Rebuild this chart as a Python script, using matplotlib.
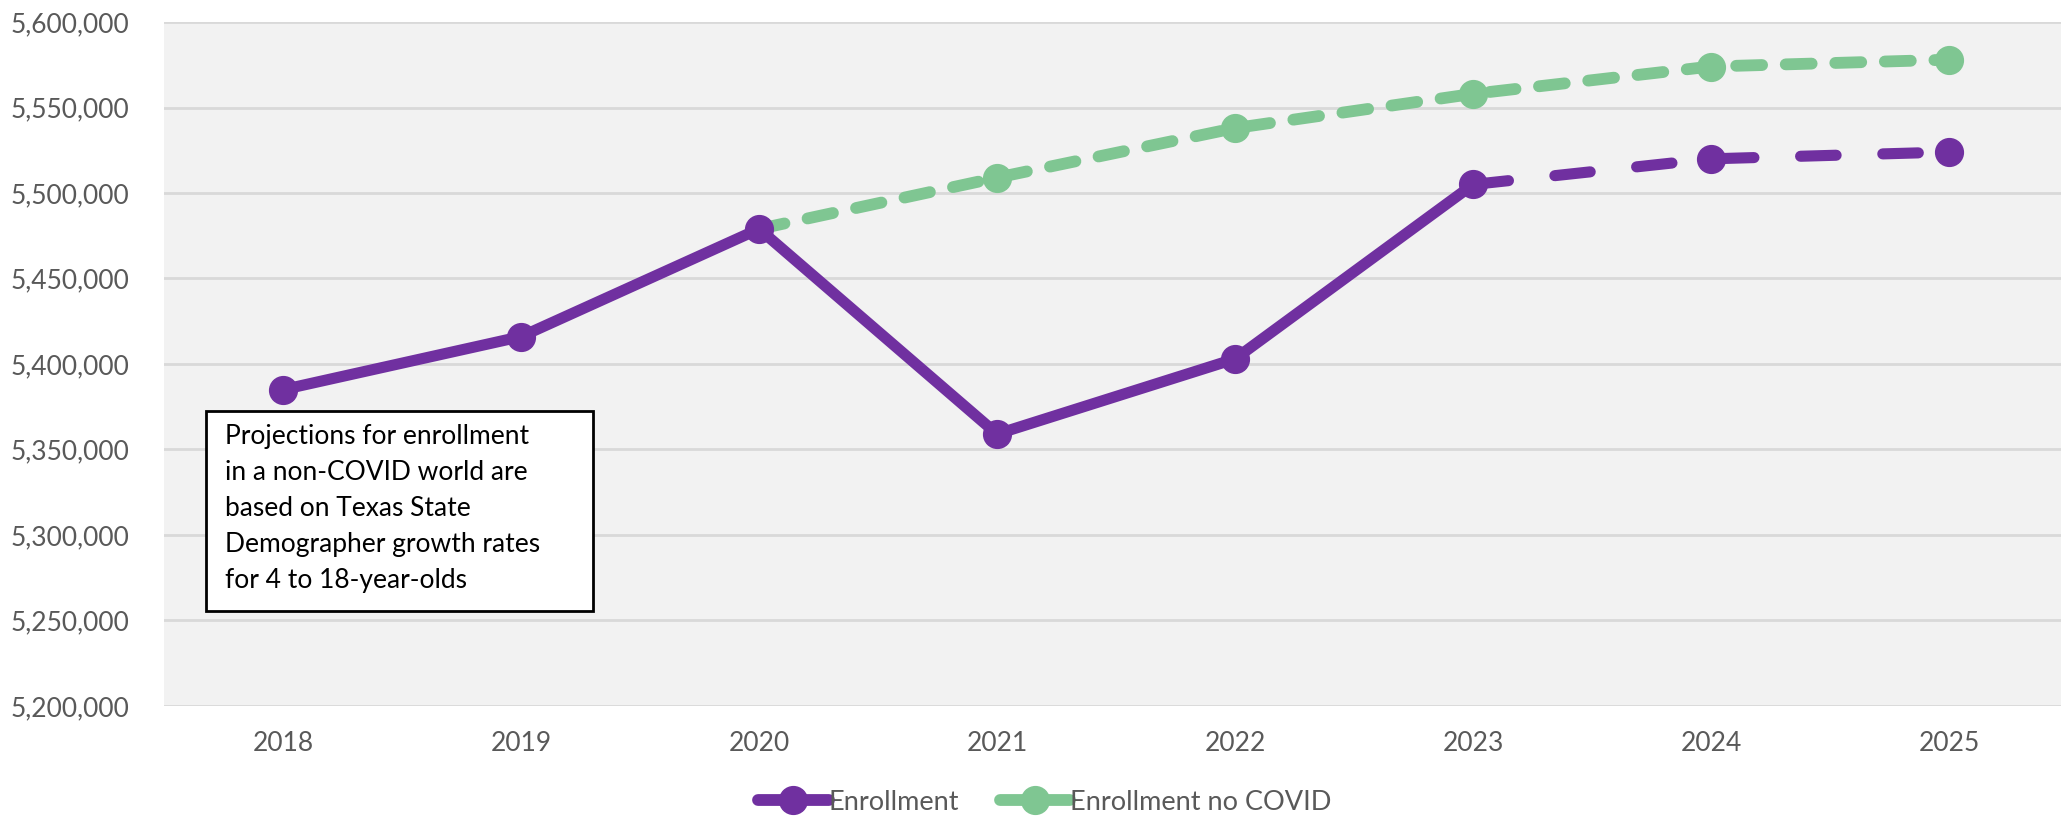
import matplotlib
matplotlib.use("Agg")
import matplotlib.pyplot as plt
from matplotlib.lines import Line2D
from matplotlib.patches import Rectangle
from matplotlib.ticker import FuncFormatter

years = ["2018", "2019", "2020", "2021", "2022", "2023", "2024", "2025"]
enrollment = [5385000, 5416000, 5479000, 5359000, 5403000, 5505000, 5520000, 5524000]
no_covid = [None, None, 5479000, 5509000, 5538000, 5558000, 5574000, 5578000]
note = ("Projections for enrollment\nin a non-COVID world are\nbased on Texas State\n"
        "Demographer growth rates\nfor 4 to 18-year-olds")

purple = "#7030A0"
green = "#7FC692"
grey = "#595959"

plt.rcParams['font.family'] = ['Lato', 'DejaVu Sans']

fig = plt.figure(figsize=(20.61, 8.17), dpi=100)
ax = fig.add_axes([0.0796, 0.136, 0.9204, 0.837])
ax.set_facecolor("#F2F2F2")

x = list(range(len(years)))
split = years.index("2023")

# green "no covid" series, dashed, from 2020 onward
gx = [i for i, v in zip(x, no_covid) if v is not None]
gy = [v for v in no_covid if v is not None]
ax.plot(gx, gy, color=green, lw=8.5, ls=(0, (2.2, 2.0)), solid_capstyle="round",
        dash_capstyle="round", zorder=3)
ax.plot(gx[1:], gy[1:], ls="none", marker="o", ms=20, color=green, zorder=4)

# purple actual (solid) and projected (dashed)
ax.plot(x[:split + 1], enrollment[:split + 1], color=purple, lw=8,
        solid_capstyle="round", zorder=5)
ax.plot(x[split:], enrollment[split:], color=purple, lw=8, ls=(0, (3.2, 4.2)),
        dash_capstyle="round", zorder=5)
ax.plot(x, enrollment, ls="none", marker="o", ms=20, color=purple, zorder=6)

ax.set_xlim(-0.5, 7.47)
ax.set_ylim(5200000, 5600000)
ax.set_yticks(range(5200000, 5600001, 50000))
ax.yaxis.set_major_formatter(FuncFormatter(lambda v, p: f"{int(v):,}"))
ax.set_xticks(x)
ax.set_xticklabels(years)
ax.tick_params(length=0, labelsize=19, labelcolor=grey)
ax.tick_params(axis="x", pad=18)
ax.tick_params(axis="y", pad=25)
ax.grid(axis="y", color="#D9D9D9", lw=2)
ax.set_axisbelow(True)
for s in ax.spines.values():
    s.set_visible(False)

# note box
ax.add_patch(Rectangle((0.022, 0.139), 0.204, 0.292, transform=ax.transAxes,
                       facecolor="white", edgecolor="black", lw=2, zorder=7))
ax.text(0.032, 0.412, note, transform=ax.transAxes, fontsize=19, va="top",
        ha="left", linespacing=1.55, color="black", zorder=8)

handles = [
    Line2D([], [], color=purple, lw=8.5, marker="o", ms=20, solid_capstyle="round"),
    Line2D([], [], color=green, lw=8.5, marker="o", ms=20, solid_capstyle="round"),
]
fig.legend(handles, ["Enrollment", "Enrollment no COVID"], loc="center",
           bbox_to_anchor=(0.507, 0.018), ncol=2, frameon=False, fontsize=19.5,
           labelcolor=grey, handlelength=2.6, handletextpad=0.0, columnspacing=1.5)

fig.savefig("out.png", dpi=100)
